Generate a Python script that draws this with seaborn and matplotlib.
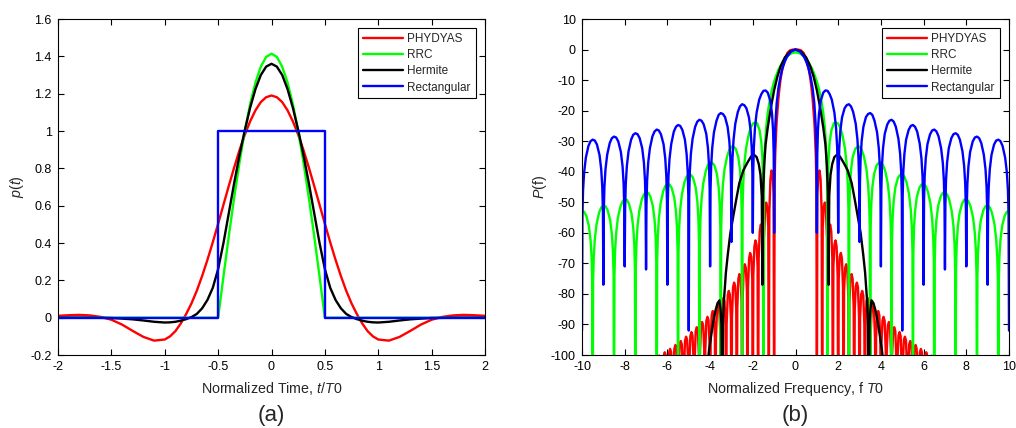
import matplotlib
matplotlib.use("Agg")
import matplotlib.pyplot as plt
import pandas as pd
import seaborn as sns
from matplotlib.ticker import FuncFormatter, MultipleLocator

SERIES = ["PHYDYAS", "RRC", "Hermite", "Rectangular"]
COLORS = ["#ff0000", "#00ff00", "#000000", "#0000ff"]

# ---------------- (a) time domain: right half, the pulses are even in t ----------------
time_t = [0.0, 0.05, 0.1, 0.15, 0.2, 0.25, 0.3, 0.35, 0.4, 0.45, 0.5, 0.55, 0.6, 0.65,
          0.7, 0.75, 0.8, 0.85, 0.9, 0.95, 1.0, 1.1, 1.2, 1.3, 1.4, 1.5, 1.6, 1.7, 1.8, 1.9, 2.0]
phydyas_p = [1.19, 1.181, 1.155, 1.111, 1.052, 0.98, 0.897, 0.804, 0.706, 0.605, 0.503, 0.404,
             0.31, 0.223, 0.144, 0.076, 0.019, -0.031, -0.072, -0.100, -0.117, -0.123, -0.103,
             -0.071, -0.037, -0.011, 0.004, 0.012, 0.015, 0.013, 0.01]
rrc_p = [1.414, 1.397, 1.345, 1.26, 1.144, 1.0, 0.831, 0.642, 0.437, 0.221, 0.0, 0.0, 0.0, 0.0,
         0.0, 0.0, 0.0, 0.0, 0.0, 0.0, 0.0, 0.0, 0.0, 0.0, 0.0, 0.0, 0.0, 0.0, 0.0, 0.0, 0.0]
hermite_p = [1.36, 1.345, 1.30, 1.225, 1.125, 1.005, 0.87, 0.72, 0.56, 0.40, 0.26, 0.16, 0.095,
             0.05, 0.02, 0.003, -0.008, -0.016, -0.022, -0.025, -0.026, -0.022, -0.015, -0.009,
             -0.005, -0.002, -0.001, 0.0, 0.0, 0.0, 0.0]
rect_t = [0.0, 0.5, 0.5, 2.0]
rect_p = [1.0, 1.0, 0.0, 0.0]

# ---------------- (b) spectra in dB: right half, spectra are even in f ----------------
DEEP = -130.0  # nulls that fall through the -100 dB floor
LOBE_OFFSETS = [0.02, 0.05, 0.1, 0.18, 0.3, 0.4, 0.5, 0.6, 0.7, 0.82, 0.9, 0.95, 0.98]
RIPPLE_OFFSETS = [0.025, 0.075, 0.125, 0.175, 0.225]

# PHYDYAS
phy_main_f = [0.0, 0.125, 0.25, 0.375, 0.5, 0.625, 0.7, 0.75, 0.8, 0.875, 0.9, 0.95, 0.98]
phy_main_db = [0.0, -0.02, -0.25, -1.08, -3.0, -6.6, -9.8, -12.6, -16.0, -22.9, -25.9, -34.5, -44.4]
phy_null_f = [1.0, 1.25, 1.5, 1.75, 2.0, 2.25, 2.5, 2.75, 3.0, 3.25, 3.5, 3.75, 4.0, 4.25,
              4.5, 4.75, 5.0, 5.25, 5.5, 5.75, 6.0, 6.25, 6.5]
phy_null_db = [DEEP] * 23
phy_ripples = [
    [-47.0, -41.0, -39.6, -42.5, -53.0],
    [-58.0, -51.5, -50.1, -52.5, -62.0],
    [-65.0, -58.5, -57.3, -59.5, -68.5],
    [-71.0, -63.8, -62.5, -64.5, -74.0],
    [-75.0, -67.8, -66.6, -68.5, -78.0],
    [-79.0, -71.5, -70.3, -72.0, -81.5],
    [-82.5, -74.7, -73.5, -75.0, -84.5],
    [-85.0, -77.5, -76.3, -77.8, -87.5],
    [-88.0, -80.2, -79.0, -80.5, -90.0],
    [-90.3, -82.5, -81.3, -82.7, -92.3],
    [-92.5, -84.6, -83.5, -84.8, -94.5],
    [-94.6, -86.7, -85.6, -86.9, -96.5],
    [-96.5, -88.6, -87.5, -88.8, -98.4],
    [-98.2, -90.3, -89.2, -90.5, -100.0],
    [-99.9, -92.0, -90.9, -92.2, -101.8],
    [-101.5, -93.6, -92.5, -93.8, -103.4],
    [-103.0, -95.1, -94.0, -95.3, -105.0],
    [-104.4, -96.5, -95.4, -96.7, -106.3],
    [-105.7, -97.8, -96.7, -98.0, -107.6],
    [-107.0, -99.1, -98.0, -99.3, -109.0],
    [-108.0, -100.2, -99.1, -100.4, -110.0],
    [-109.0, -101.3, -100.2, -101.5, -111.0],
]

# RRC
rrc_main_f = [0.0, 0.2, 0.4, 0.6, 0.8, 1.0, 1.1, 1.2, 1.3, 1.38, 1.44, 1.48]
rrc_main_db = [-0.9, -1.23, -2.23, -3.97, -6.6, -10.4, -13.0, -16.3, -20.7, -26.0, -32.7, -42.7]
rrc_null_f = [1.5, 2.5, 3.5, 4.5, 5.5, 6.5, 7.5, 8.5, 9.5]
rrc_null_db = [DEEP] * 9
rrc_lobes = [
    [-43.2, -35.6, -30.4, -26.5, -24.1, -23.9, -24.3, -25.6, -28.1, -32.5, -37.9, -44.1, -52.3],
    [-52.7, -44.9, -39.4, -35.2, -32.5, -31.8, -31.8, -32.8, -34.9, -39.0, -44.2, -50.3, -58.4],
    [-58.6, -50.6, -45.1, -40.8, -37.9, -37.1, -36.9, -37.8, -39.7, -43.8, -48.9, -55.0, -63.0],
    [-63.0, -55.0, -49.5, -45.0, -42.0, -41.0, -40.8, -41.6, -43.4, -47.4, -52.4, -58.4, -66.4],
    [-66.5, -58.5, -52.9, -48.4, -45.3, -44.2, -44.0, -44.7, -46.5, -50.4, -55.4, -61.4, -69.4],
    [-69.4, -61.4, -55.8, -51.3, -48.1, -46.9, -46.7, -47.4, -49.1, -53.0, -57.9, -63.9, -71.9],
    [-71.9, -63.9, -58.3, -53.7, -50.5, -49.2, -49.0, -49.7, -51.4, -55.1, -60.1, -66.0, -74.0],
    [-74.1, -66.1, -60.5, -55.9, -52.6, -51.3, -51.1, -51.7, -53.4, -57.2, -62.1, -68.0, -76.0],
    [-76.0, -68.0, -62.3, -57.7, -54.4, -53.1, -52.9],
]

# Hermite
herm_f = [0.0, 0.25, 0.5, 0.7, 0.85, 1.0, 1.1, 1.2, 1.3, 1.4, 1.47, 1.52, 1.55, 1.58, 1.64,
          1.72, 1.82, 1.95, 2.08, 2.25, 2.44, 2.63, 2.76, 2.9, 3.05, 3.17, 3.26, 3.34, 3.39,
          3.43, 3.47, 3.51, 3.56, 3.65, 3.75, 3.85, 3.95, 4.05, 4.12]
herm_db = [0.0, -0.6, -2.6, -5.6, -8.9, -13.3, -17.0, -21.0, -25.5, -31.0, -38.0, -47.0, -77.0,
           -48.0, -41.0, -37.5, -35.2, -34.4, -35.0, -37.0, -39.5, -43.7, -48.5, -54.0, -60.0,
           -67.0, -73.0, -81.0, -88.0, DEEP, -90.0, -85.0, -82.1, -83.0, -85.5, -89.0, -93.5,
           -98.5, -103.0]

# Rectangular
rect_main_f = [0.0, 0.2, 0.4, 0.5, 0.6, 0.7, 0.8, 0.88, 0.94, 0.98]
rect_main_db = [0.0, -0.58, -2.42, -3.92, -5.94, -8.69, -12.6, -17.5, -24.0, -33.8]
rect_null_f = [1, 2, 3, 4, 5, 6, 7, 8, 9, 10]
rect_null_db = [-60, -60, -63, -71, -92, -77, -72, -71, -77, -92]
rect_lobes = [
    [-34.2, -26.5, -21.0, -16.8, -14.1, -13.4, -13.5, -14.6, -16.4, -20.6, -25.7, -31.9, -39.9],
    [-40.0, -32.2, -26.6, -22.2, -19.2, -18.2, -17.9, -18.6, -20.4, -24.3, -29.4, -35.4, -43.4],
    [-43.5, -35.5, -29.9, -25.3, -22.1, -21.1, -20.8, -21.4, -23.3, -27.1, -32.2, -38.0, -46.0],
    [-46.0, -38.0, -32.3, -27.6, -24.5, -23.3, -23.0, -23.6, -25.3, -29.2, -34.1, -40.0, -48.0],
    [-47.9, -39.9, -34.2, -29.5, -26.3, -25.0, -24.7, -25.3, -26.9, -30.9, -35.7, -41.5, -49.5],
    [-49.5, -41.5, -35.7, -31.0, -27.8, -26.5, -26.2, -26.8, -28.4, -32.3, -37.1, -42.9, -50.9],
    [-50.8, -42.8, -37.0, -32.3, -29.0, -27.7, -27.4, -27.9, -29.5, -33.3, -38.2, -44.0, -52.0],
    [-52.0, -44.0, -38.2, -33.5, -30.1, -28.8, -28.5, -29.0, -30.6, -34.4, -39.2, -45.0, -53.0],
    [-53.0, -45.0, -39.2, -34.5, -31.1, -29.8, -29.5, -30.0, -31.6, -35.4, -40.2, -46.0, -54.0],
]


def mirror(xs, ys):
    """Even symmetry: reflect the right half (starting at 0) onto negative values."""
    return [-x for x in reversed(xs[1:])] + list(xs), list(reversed(ys[1:])) + list(ys)


def lobes_path(main_f, main_db, null_f, null_db, lobes, offsets):
    xs, ys = list(main_f), list(main_db)
    for i, (nf, nd) in enumerate(zip(null_f, null_db)):
        xs.append(nf)
        ys.append(nd)
        if i < len(lobes):
            xs += [nf + o for o in offsets[:len(lobes[i])]]
            ys += list(lobes[i])
    return mirror(xs, ys)


time_series = {
    "PHYDYAS": mirror(time_t, phydyas_p),
    "RRC": mirror(time_t, rrc_p),
    "Hermite": mirror(time_t, hermite_p),
    "Rectangular": mirror(rect_t, rect_p),
}
freq_series = {
    "PHYDYAS": lobes_path(phy_main_f, phy_main_db, phy_null_f, phy_null_db, phy_ripples, RIPPLE_OFFSETS),
    "RRC": lobes_path(rrc_main_f, rrc_main_db, rrc_null_f, rrc_null_db, rrc_lobes, LOBE_OFFSETS),
    "Hermite": mirror(herm_f, herm_db),
    "Rectangular": lobes_path(rect_main_f, rect_main_db, rect_null_f, rect_null_db, rect_lobes, LOBE_OFFSETS),
}

# ---------------- styling ----------------
sns.set_theme(style="ticks")
plt.rcParams.update({
    "font.family": ["Liberation Sans", "DejaVu Sans"],
    "mathtext.fontset": "custom",
    "mathtext.rm": "Liberation Sans",
    "mathtext.it": "Liberation Sans:italic",
    "axes.unicode_minus": False,
    "axes.linewidth": 0.8,
    "axes.edgecolor": "black",
    "xtick.color": "black",
    "ytick.color": "black",
})

fig = plt.figure(figsize=(10.16, 4.28), dpi=100)
ax_a = fig.add_axes([58 / 1016, 73 / 428, 427 / 1016, 336 / 428])
ax_b = fig.add_axes([582 / 1016, 73 / 428, 427 / 1016, 336 / 428])


def fmt(v, _):
    if abs(v) < 1e-9:
        return "0"
    return f"{v:g}"


for ax, data in ((ax_a, time_series), (ax_b, freq_series)):
    for name, color in zip(SERIES, COLORS):
        xs, ys = data[name]
        df = pd.DataFrame({"x": xs, "y": ys})
        sns.lineplot(data=df, x="x", y="y", ax=ax, color=color, linewidth=1.7,
                     sort=False, estimator=None, label=name)
    ax.tick_params(direction="in", top=True, right=True, length=4, width=0.8,
                   labelsize=9, pad=4.5)
    ax.xaxis.set_major_formatter(FuncFormatter(fmt))
    ax.yaxis.set_major_formatter(FuncFormatter(fmt))
    for s in ax.spines.values():
        s.set_visible(True)
        s.set_linewidth(0.8)
    leg = ax.legend(loc="upper right", frameon=True, fancybox=False, framealpha=1,
                    edgecolor="black", fontsize=8.5, handlelength=3.4, handletextpad=0.4,
                    borderpad=0.4, labelspacing=0.35, borderaxespad=0.8)
    leg.get_frame().set_linewidth(0.8)

ax_a.set_xlim(-2, 2)
ax_a.set_ylim(-0.2, 1.6)
ax_a.xaxis.set_major_locator(MultipleLocator(0.5))
ax_a.yaxis.set_major_locator(MultipleLocator(0.2))
ax_a.set_xlabel(r"Normalized Time, $t/T$0", fontsize=10.3, labelpad=5)
ax_a.set_ylabel(r"$p(t)$", fontsize=10.3, labelpad=3)

ax_b.set_xlim(-10, 10)
ax_b.set_ylim(-100, 10)
ax_b.xaxis.set_major_locator(MultipleLocator(2))
ax_b.yaxis.set_major_locator(MultipleLocator(10))
ax_b.set_xlabel(r"Normalized Frequency, f $T$0", fontsize=10.3, labelpad=5)
ax_b.set_ylabel(r"$P$(f)", fontsize=10.3, labelpad=1)

fig.text((58 + 427 / 2) / 1016, 1 - 415 / 428, "(a)", ha="center", va="center", fontsize=16)
fig.text((582 + 427 / 2) / 1016, 1 - 415 / 428, "(b)", ha="center", va="center", fontsize=16)

fig.savefig("out.png", dpi=100)
